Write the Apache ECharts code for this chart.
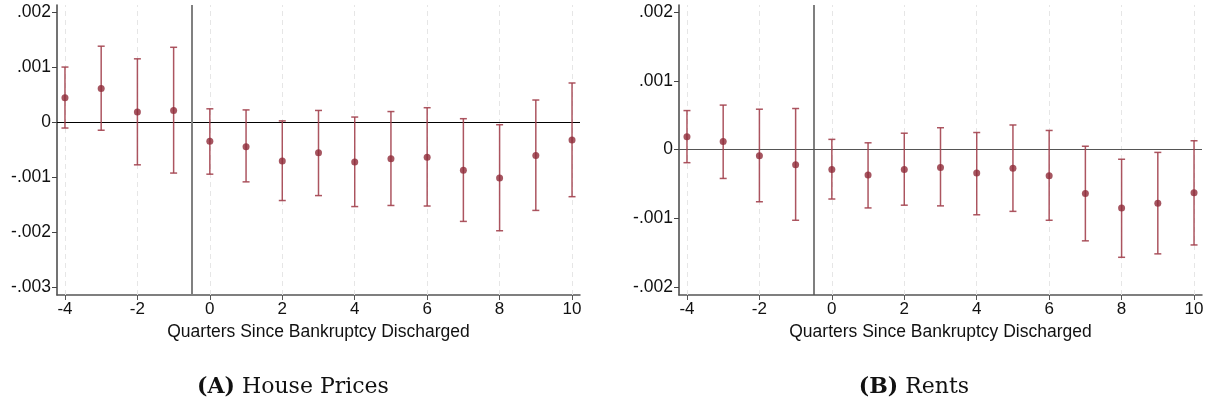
<!DOCTYPE html>
<html>
<head>
<meta charset="utf-8">
<script src="https://cdn.jsdelivr.net/npm/echarts@6/dist/echarts.min.js"></script>
<style>
html,body{margin:0;padding:0;background:#fff;}
#c{width:1211px;height:406px;}
</style>
</head>
<body>
<div id="c"></div>
<script>
// Quarters since bankruptcy discharged
const quarters = [-4,-3,-2,-1,0,1,2,3,4,5,6,7,8,9,10];
// Panel A: House Prices
const hpEst = [0.00044,0.00061,0.00018,0.00021,-0.00035,-0.00045,-0.00071,-0.00056,-0.00073,-0.00067,-0.00064,-0.00088,-0.00102,-0.00061,-0.00033];
const hpHi  = [0.00100,0.00138,0.00115,0.00136,0.00024,0.00022,0.00002,0.00021,0.00009,0.00019,0.00026,0.00006,-0.00005,0.00040,0.00071];
const hpLo  = [-0.00011,-0.00015,-0.00078,-0.00093,-0.00095,-0.00109,-0.00143,-0.00134,-0.00154,-0.00152,-0.00153,-0.00181,-0.00198,-0.00161,-0.00136];
// Panel B: Rents
const rtEst = [0.00019,0.00012,-0.00009,-0.00022,-0.00029,-0.00037,-0.00029,-0.00026,-0.00034,-0.00027,-0.00038,-0.00064,-0.00085,-0.00078,-0.00063];
const rtHi  = [0.00057,0.00065,0.00059,0.00060,0.00015,0.00010,0.00024,0.00032,0.00025,0.00036,0.00028,0.00005,-0.00014,-0.00004,0.00013];
const rtLo  = [-0.00019,-0.00042,-0.00076,-0.00103,-0.00072,-0.00085,-0.00081,-0.00082,-0.00095,-0.00090,-0.00103,-0.00133,-0.00157,-0.00152,-0.00139];
// Tick values
const xTicks = [-4,-2,0,2,4,6,8,10];
const yTicksA = [-0.003,-0.002,-0.001,0,0.001,0.002];
const yTicksB = [-0.002,-0.001,0,0.001,0.002];
const xTitle = 'Quarters Since Bankruptcy Discharged';
const captionA = ['(A)', 'House Prices'];
const captionB = ['(B)', 'Rents'];
const eventLine = -0.5;

function fmtY(v){
  if (Math.abs(v) < 1e-12) return '0';
  const s = Math.abs(v).toFixed(3).replace(/^0/, '');
  return (v < 0 ? '-' : '') + s;
}

const font = 'Liberation Sans, Arial, sans-serif';
const serif = 'DejaVu Serif, serif';
const barColor = '#a3434f';
const dotColor = '#8e2b38';

function xAxis(gi){
  return {
    type:'value', gridIndex:gi, min:-4.22, max:10.22,
    name:xTitle, nameLocation:'middle', nameGap:27,
    nameTextStyle:{fontFamily:font,fontSize:17.5,color:'#111'},
    axisLine:{show:true,onZero:false,lineStyle:{color:'#555',width:1.5}},
    axisTick:{show:true,length:5,customValues:xTicks,lineStyle:{color:'#555',width:1}},
    axisLabel:{customValues:xTicks,fontFamily:font,fontSize:17,color:'#111',margin:6,
      formatter:v=>String(v)},
    splitLine:{show:false}
  };
}
function yAxis(gi,min,max,ticks){
  return {
    type:'value', gridIndex:gi, min:min, max:max,
    axisLine:{show:true,onZero:false,lineStyle:{color:'#444',width:1.5}},
    axisTick:{show:true,length:5,customValues:ticks,lineStyle:{color:'#444',width:1}},
    axisLabel:{customValues:ticks,fontFamily:font,fontSize:17.5,color:'#111',margin:6,formatter:fmtY},
    splitLine:{show:false}
  };
}

function errSeries(gi,lo,hi){
  return {
    type:'custom', xAxisIndex:gi, yAxisIndex:gi, z:5,
    data: quarters.map((q,i)=>[q,lo[i],hi[i]]),
    renderItem:function(params,api){
      const x = api.value(0);
      const p1 = api.coord([x,api.value(1)]);
      const p2 = api.coord([x,api.value(2)]);
      const hw = 3.5;
      const st = {stroke:barColor,lineWidth:1.5,opacity:0.9};
      return {type:'group',children:[
        {type:'line',shape:{x1:p1[0],y1:p1[1],x2:p2[0],y2:p2[1]},style:st},
        {type:'line',shape:{x1:p1[0]-hw,y1:p1[1],x2:p1[0]+hw,y2:p1[1]},style:st},
        {type:'line',shape:{x1:p2[0]-hw,y1:p2[1],x2:p2[0]+hw,y2:p2[1]},style:st}
      ]};
    }
  };
}
function dotSeries(gi,est){
  return {
    type:'scatter', xAxisIndex:gi, yAxisIndex:gi, z:6,
    symbol:'circle', symbolSize:7,
    itemStyle:{color:dotColor},
    data: quarters.map((q,i)=>[q,est[i]])
  };
}
function gridSeries(gi,yTicks,zeroColor,vColor,vWidth){
  const lines = [];
  xTicks.forEach(v=>lines.push({xAxis:v,lineStyle:{type:[5,4],color:'#e6e6e6',width:1}}));
  yTicks.forEach(v=>{ if (v!==0) lines.push({yAxis:v,lineStyle:{type:[5,4],color:'#e6e6e6',width:1}}); });
  lines.push({yAxis:0,lineStyle:{type:'solid',color:zeroColor,width:1.2}});
  lines.push({xAxis:eventLine,lineStyle:{type:'solid',color:vColor,width:vWidth}});
  return {
    type:'line', xAxisIndex:gi, yAxisIndex:gi, data:[], z:1,
    markLine:{silent:true,symbol:'none',label:{show:false},animation:false,data:lines}
  };
}
function caption(c,x){
  return {text:'{b|'+c[0]+'} '+c[1],left:x,top:371,textAlign:'center',
    textStyle:{fontFamily:serif,fontSize:22,fontWeight:'normal',color:'#111',
      rich:{b:{fontFamily:serif,fontSize:22,fontWeight:'bold',color:'#111'}}}};
}

const chart = echarts.init(document.getElementById('c'),null,{renderer:'canvas'});
chart.setOption({
  animation:false,
  backgroundColor:'#fff',
  grid:[
    {left:57,top:5,width:523,height:290},
    {left:679,top:5,width:523,height:290}
  ],
  xAxis:[xAxis(0),xAxis(1)],
  yAxis:[yAxis(0,-0.00315,0.00213,yTicksA),yAxis(1,-0.00212,0.00211,yTicksB)],
  title:[caption(captionA,288),caption(captionB,909)],
  series:[
    gridSeries(0,yTicksA,'#000','#808080',2),
    errSeries(0,hpLo,hpHi),
    dotSeries(0,hpEst),
    gridSeries(1,yTicksB,'#555','#555',1.5),
    errSeries(1,rtLo,rtHi),
    dotSeries(1,rtEst)
  ]
});
</script>
</body>
</html>
